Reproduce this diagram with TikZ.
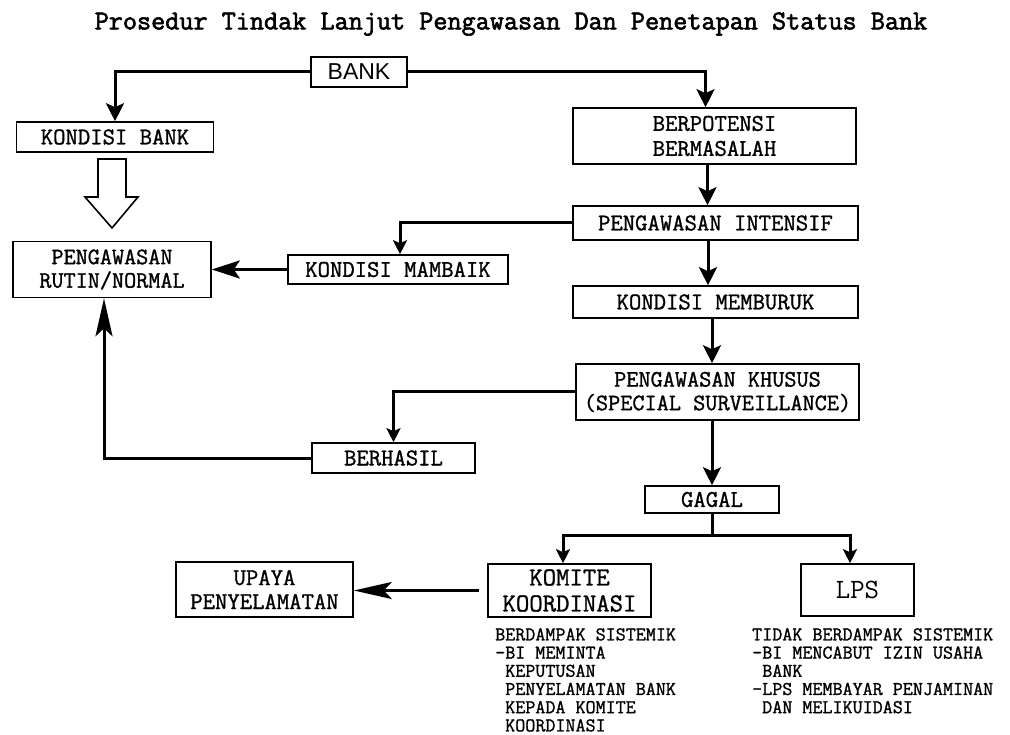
\documentclass[tikz,border=0pt]{standalone}
\usepackage{fontspec}
\setmainfont{Liberation Sans}
\newfontfamily\mono{Latin Modern Mono}[FakeBold=1.2]
\newfontfamily\monob{Latin Modern Mono}[FakeBold=2.2]
\newfontfamily\monor{Latin Modern Mono}
\usetikzlibrary{arrows.meta}
\begin{document}
\begin{tikzpicture}[x=1pt,y=-1pt,
  box/.style={draw,line width=1.6pt,inner sep=1pt,align=center,
    font=\mono\fontsize{24}{24}\selectfont},
  conn/.style={line width=3pt,-{Stealth[length=18pt,width=18pt,inset=4pt]}},
  connsm/.style={line width=3pt,-{Stealth[length=14pt,width=14pt,inset=3pt]}},
  connlong/.style={line width=3pt,-{Stealth[length=38pt,width=17pt,inset=8pt]}},
  connmid/.style={line width=3pt,-{Stealth[length=28pt,width=18pt,inset=6pt]}},
  note/.style={anchor=north west,inner sep=0pt,align=left,
    font=\mono\fontsize{19.5}{18.2}\selectfont}
]
\useasboundingbox (0,0) rectangle (1010,735);

\node[inner sep=0pt,font=\monob\fontsize{27.4}{24}\selectfont] (title) at (511,24)
  {Prosedur Tindak Lanjut Pengawasan Dan Penetapan Status Bank};

\node[box,font=\fontsize{23}{24}\selectfont,minimum width=96pt,minimum height=30pt] (bank) at (359,72) {BANK};
\node[box,minimum width=197pt,minimum height=30pt] (kb) at (115,137) {KONDISI BANK};
\node[box,font=\mono\fontsize{23.5}{23.5}\selectfont,minimum width=198pt,minimum height=56pt] (rutin) at (112,269.5) {PENGAWASAN\\RUTIN/NORMAL};
\node[box,minimum width=220pt,minimum height=29pt] (mambaik) at (398,269.5) {KONDISI MAMBAIK};
\node[box,font=\mono\fontsize{24}{25}\selectfont,minimum width=283pt,minimum height=56pt] (berpotensi) at (714.5,136) {BERPOTENSI\\BERMASALAH};
\node[box,minimum width=285pt,minimum height=34pt] (intensif) at (715.5,223) {PENGAWASAN INTENSIF};
\node[box,minimum width=285pt,minimum height=32pt] (memburuk) at (715.5,302) {KONDISI MEMBURUK};
\node[box,font=\mono\fontsize{23.6}{23.6}\selectfont,minimum width=283pt,minimum height=56pt] (khusus) at (717.5,392) {PENGAWASAN KHUSUS\\(SPECIAL SURVEILLANCE)};
\node[box,minimum width=163pt,minimum height=30pt] (berhasil) at (393.5,458) {BERHASIL};
\node[box,minimum width=134pt,minimum height=27pt] (gagal) at (712,499.5) {GAGAL};
\node[box,font=\mono\fontsize{26}{26}\selectfont,minimum width=163pt,minimum height=53pt] (komite) at (569.5,590.5) {KOMITE\\KOORDINASI};
\node[box,font=\monor\fontsize{28}{24}\selectfont,minimum width=113pt,minimum height=52pt] (lps) at (857.5,590) {LPS};
\node[box,font=\mono\fontsize{24}{24}\selectfont,minimum width=177pt,minimum height=55pt] (upaya) at (264.5,589.5) {UPAYA\\PENYELAMATAN};

\node[note] (komitenote) at (495,628) {BERDAMPAK SISTEMIK\\-BI MEMINTA\\\hphantom{-}KEPUTUSAN\\\hphantom{-}PENYELAMATAN BANK\\\hphantom{-}KEPADA KOMITE\\\hphantom{-}KOORDINASI};
\node[note] (lpsnote) at (752,628) {TIDAK BERDAMPAK SISTEMIK\\-BI MENCABUT IZIN USAHA\\\hphantom{-}BANK\\-LPS MEMBAYAR PENJAMINAN\\\hphantom{-}DAN MELIKUIDASI};

% hollow block arrow
\draw[line width=1.6pt,fill=white] (98,159) -- (126,159) -- (126,197) -- (138,197) -- (112,228) -- (85,197) -- (98,197) -- cycle;

\draw[conn] (bank.west) -| (kb.north);
\draw[conn] (bank.east) -| ([xshift=-9pt]berpotensi.north);
\draw[conn] ([xshift=-7pt]berpotensi.south) -- ([xshift=-7pt]berpotensi.south |- intensif.north);
\draw[conn] ([xshift=-7.5pt]intensif.south) -- ([xshift=-7.5pt]intensif.south |- memburuk.north);
\draw[conn] ([xshift=-3.5pt]memburuk.south) -- ([xshift=-3.5pt]memburuk.south |- khusus.north);
\draw[conn] (gagal.north |- khusus.south) -- (gagal.north);
\draw[connsm] (intensif.west) -| ([xshift=2pt]mambaik.north);
\draw[connmid] (mambaik.west) -- (rutin.east |- mambaik.west);
\draw[connsm] (khusus.west) -| (berhasil.north);
\draw[connlong] (berhasil.west) -| ([xshift=-8pt]rutin.south);
\draw[connsm] (gagal.south) -- ++(0,22) -| ([xshift=-6.5pt]komite.north);
\draw[connsm] (gagal.south) -- ++(0,22) -| ([xshift=-7.5pt]lps.north);
\draw[connlong,shorten <=8pt] (komite.west) -- (upaya.east |- komite.west);
\end{tikzpicture}
\end{document}
